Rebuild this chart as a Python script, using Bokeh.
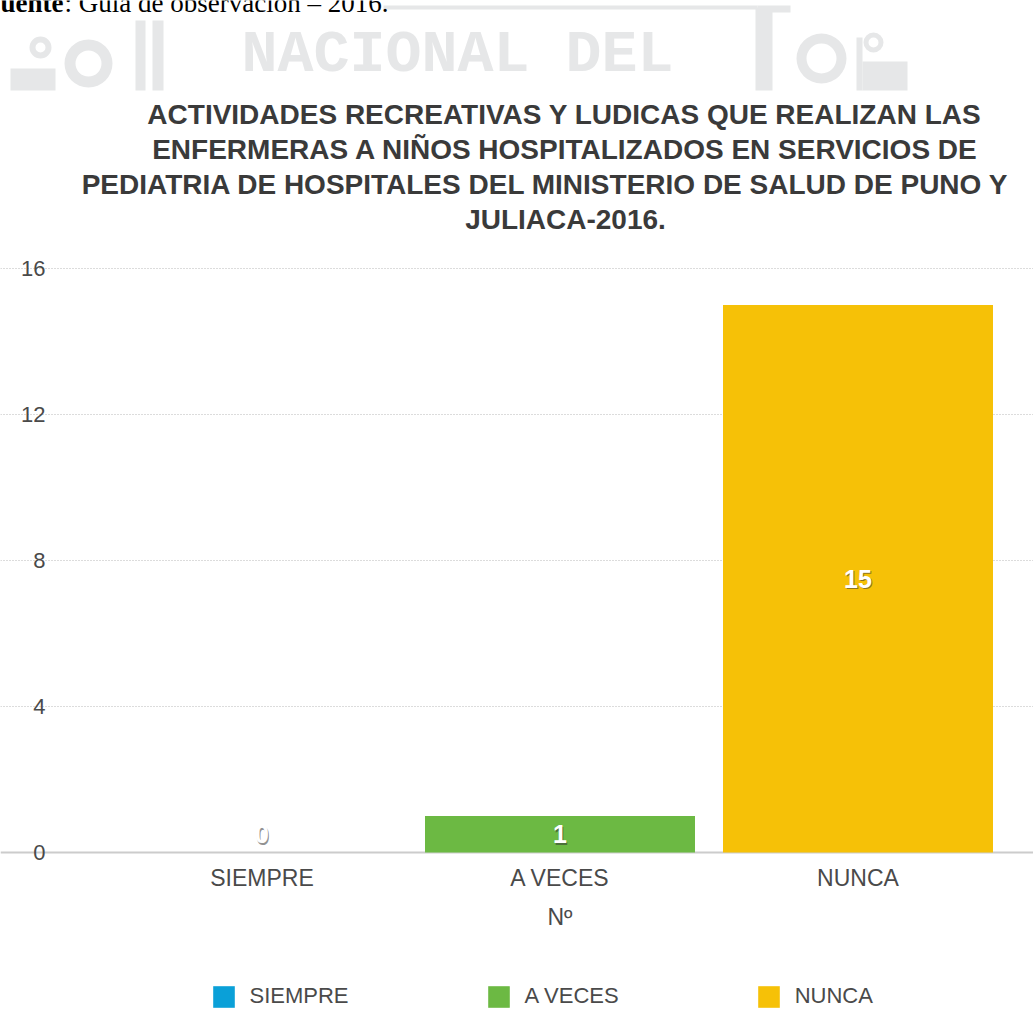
from bokeh.plotting import figure
from bokeh.models import (Range1d, FixedTicker, ColumnDataSource, Legend,
                          LegendItem, Grid)
from bokeh.core.properties import value
from bokeh.embed import file_html
from bokeh.resources import INLINE

# ---------------- data ----------------
categories = ["SIEMPRE", "A VECES", "NUNCA"]
counts = [0, 1, 15]
bar_colors = ["#0aa0d8", "#6cb943", "#f6c107"]
y_ticks = [0, 4, 8, 12, 16]
title_lines = [
    "ACTIVIDADES RECREATIVAS Y LUDICAS QUE REALIZAN LAS",
    "ENFERMERAS A NIÑOS HOSPITALIZADOS EN SERVICIOS DE",
    "PEDIATRIA DE HOSPITALES DEL MINISTERIO DE SALUD DE PUNO Y",
    "JULIACA-2016.",
]
x_axis_title = "Nº"
note_bold = "uente"
note_rest = ": Guía de observación – 2016."
watermark_text = "NACIONAL DEL"

# ---------------- layout (page pixels) ----------------
W, H = 1033, 1011
GRID_L, FB = 72, 852          # gridline start / zero line (page px)
PX_UNIT = 36.5                # px per count unit
CAT0, CAT_STEP = 261.5, 298.0
SANS = value("Liberation Sans")
SERIF = value("Liberation Serif")
WM = "#e6e7e8"                # watermark grey


def dx(px):   # page x -> data x
    return (px - CAT0) / CAT_STEP


def dy(py):   # page y -> data y
    return (FB - py) / PX_UNIT


p = figure(width=W, height=H, output_backend="svg", toolbar_location=None,
           x_range=Range1d(dx(0), dx(W)), y_range=Range1d(dy(H), dy(0)),
           min_border=0)
p.outline_line_color = None
p.background_fill_color = "white"
p.border_fill_color = "white"

# ---- faint watermark of the scanned page (decoration) ----
wm_boxes = [(383, 757, 5, 9), (755, 772, 7, 90), (757, 790, 5, 12),
            (10, 55, 68, 90), (135, 145, 20, 90), (152, 163, 20, 90),
            (856, 862, 37, 90), (862, 907, 61, 90)]
p.quad(left=[dx(b[0]) for b in wm_boxes], right=[dx(b[1]) for b in wm_boxes],
       top=[dy(b[2]) for b in wm_boxes], bottom=[dy(b[3]) for b in wm_boxes],
       fill_color=WM, line_color=None)
wm_rings = [(40, 47, 5, 11), (88, 63, 13, 24), (821, 58, 15, 25),
            (873, 42, 5, 10)]
p.annulus(x=[dx(r[0]) for r in wm_rings], y=[dy(r[1]) for r in wm_rings],
          inner_radius=[r[2] for r in wm_rings],
          outer_radius=[r[3] for r in wm_rings],
          inner_radius_units="screen", outer_radius_units="screen",
          fill_color=WM, line_color=None)
p.text(x=[dx(457)], y=[dy(54.5)], text=[watermark_text],
       text_font=value("Liberation Mono"), text_font_style="bold",
       text_font_size="60px", text_color=WM, text_align="center",
       text_baseline="middle")

# ---- cut-off source note ----
p.text(x=[dx(0)], y=[dy(2)], text=[note_bold], text_font=SERIF,
       text_font_style="bold", text_font_size="27px", text_color="black",
       text_align="left", text_baseline="middle")
p.text(x=[dx(64)], y=[dy(2)], text=[note_rest], text_font=SERIF,
       text_font_size="27px", text_color="black", text_align="left",
       text_baseline="middle")

# ---- chart title ----
tsrc = ColumnDataSource(dict(
    x=[dx(v) for v in (564, 565, 545, 565)],
    y=[dy(v) for v in (114, 149, 184, 219)],
    t=title_lines))
p.text(x="x", y="y", text="t", source=tsrc, text_font=SANS,
       text_font_style="bold", text_font_size="28px",
       text_color="#3a3a3a", text_align="center",
       text_baseline="middle")

# ---- grid (dotted) and zero line (solid) ----
p.xgrid.visible = False
p.ygrid.ticker = FixedTicker(ticks=[t for t in y_ticks if t > 0])
p.ygrid.bounds = (dx(GRID_L), dx(W))
p.ygrid.grid_line_color = "#b8b8b8"
p.ygrid.grid_line_dash = "1 2"
p.ygrid.grid_line_width = 1
p.add_layout(Grid(dimension=1, ticker=FixedTicker(ticks=[0]),
                  bounds=(dx(GRID_L), dx(W)), grid_line_color="#cccccc",
                  grid_line_width=2))

# ---- bars ----
xs = list(range(len(categories)))
src = ColumnDataSource(dict(
    x=xs, top=counts, color=bar_colors, cat=categories,
    ly=[max(c / 2, 0.5) for c in counts], txt=[str(c) for c in counts],
))
bars = p.vbar(x="x", top="top", width=0.906, bottom=0, source=src,
              fill_color="color", line_color=None)

# value labels with a soft shadow
p.text(x="x", y="ly", text="txt", source=src, text_font=SANS,
       text_font_style="bold", text_font_size="25px", text_align="center",
       text_baseline="middle", text_color="#333333", text_alpha=0.55,
       x_offset=1, y_offset=1.5)
p.text(x="x", y="ly", text="txt", source=src, text_font=SANS,
       text_font_style="bold", text_font_size="25px", text_align="center",
       text_baseline="middle", text_color="white")

# ---- y axis (labels end at x=45) ----
p.yaxis.ticker = FixedTicker(ticks=y_ticks)
p.yaxis.fixed_location = dx(15)
p.yaxis.axis_line_color = None
p.yaxis.major_tick_line_color = None
p.yaxis.minor_tick_line_color = None
p.yaxis.major_tick_out = 0
p.yaxis.major_tick_in = 0
p.yaxis.major_label_standoff = -30
p.yaxis.major_label_text_font = "Liberation Sans"
p.yaxis.major_label_text_font_size = "22px"
p.yaxis.major_label_text_color = "#4a4a4a"

# ---- x axis (category labels under the bars) ----
p.xaxis.ticker = FixedTicker(ticks=xs)
p.xaxis.fixed_location = dy(898)
p.xaxis.major_label_overrides = {i: c for i, c in zip(xs, categories)}
p.xaxis.axis_line_color = None
p.xaxis.major_tick_line_color = None
p.xaxis.minor_tick_line_color = None
p.xaxis.major_tick_out = 0
p.xaxis.major_tick_in = 0
p.xaxis.major_label_standoff = -34
p.xaxis.major_label_text_font = "Liberation Sans"
p.xaxis.major_label_text_font_size = "23px"
p.xaxis.major_label_text_color = "#4a4a4a"

# axis title
p.text(x=[1], y=[dy(916)], text=[x_axis_title], text_font=SANS,
       text_font_size="23px", text_color="#4a4a4a", text_align="center",
       text_baseline="middle")

# ---- legend ----
items = [LegendItem(label=c, renderers=[bars], index=i)
         for i, c in enumerate(categories)]
leg = Legend(items=items, orientation="horizontal",
             location=(209.5, H - 982.5 - 27), glyph_width=27,
             glyph_height=27, label_standoff=13, spacing=136, padding=0,
             margin=0, border_line_color=None, background_fill_alpha=0,
             label_text_font="Liberation Sans", label_text_font_size="22px",
             label_text_color="#4a4a4a", label_text_baseline="middle")
p.add_layout(leg)

open("out.html", "w").write(file_html(p, INLINE))
